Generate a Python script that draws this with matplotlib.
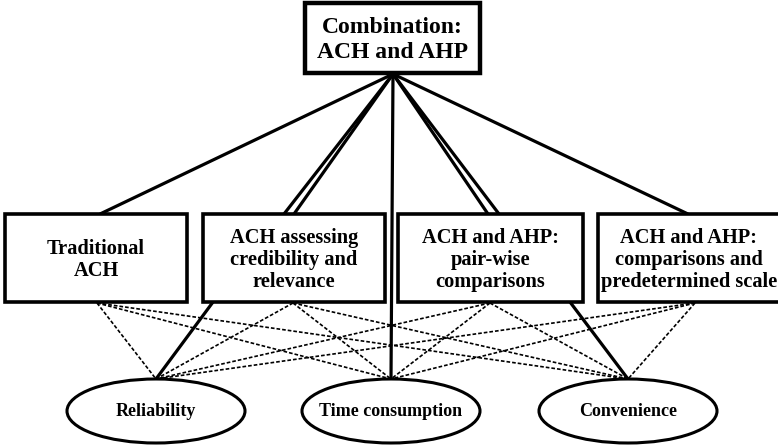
import matplotlib
matplotlib.use("Agg")
import matplotlib.pyplot as plt
from matplotlib.patches import Rectangle, Ellipse

# ---- content ----
top_label = "Combination:\nACH and AHP"
method_labels = ["Traditional\nACH",
                 "ACH assessing\ncredibility and\nrelevance",
                 "ACH and AHP:\npair-wise\ncomparisons",
                 "ACH and AHP:\ncomparisons and\npredetermined scale"]
criteria_labels = ["Reliability", "Time consumption", "Convenience"]

# ---- layout (pixel coordinates, y downward) ----
W, H = 778, 445
top_box = (305, 3, 175, 70)          # x, y, w, h
method_x = [5, 203, 398, 598]
method_w = [182, 182, 185, 182]
method_y, method_h = 214, 88
method_ls = [1.2, 1.12, 1.12, 1.12]
crit_cx = [156, 391, 628]
crit_cy, crit_w, crit_h = 411, 178, 64
apex = (393, 74)
box_top_hits = [[100], [284, 294], [488, 499], [688]]
box_bottom_pts = [97, 293, 490, 695]
solid_bottom = [(213, 0), (570, 2)]   # (x on box bottom, criterion index)

fig = plt.figure(figsize=(W / 100, H / 100), dpi=100)
ax = fig.add_axes([0, 0, 1, 1])
ax.set_xlim(0, W)
ax.set_ylim(H, 0)
ax.axis("off")

font = dict(family=["Liberation Serif", "DejaVu Serif"], weight="bold")

# top box
ax.add_patch(Rectangle(top_box[:2], top_box[2], top_box[3], fill=True, fc="white",
                       ec="black", lw=3.2, zorder=3))
ax.text(top_box[0] + top_box[2] / 2, top_box[1] + top_box[3] / 2 + 2, top_label,
        ha="center", va="center", fontsize=17, linespacing=1.28, zorder=4, **font)

# lines from apex to method boxes
for hits in box_top_hits:
    for hx in hits:
        ax.plot([apex[0], hx], [apex[1], method_y], color="black", lw=2.3,
                solid_capstyle="butt", zorder=1)
# vertical line to time consumption
ax.plot([apex[0], crit_cx[1]], [apex[1], crit_cy - crit_h / 2], color="black", lw=2.3, zorder=1)

# dashed lines between each method and each criterion
for bx in box_bottom_pts:
    for cx in crit_cx:
        ax.plot([bx, cx], [method_y + method_h + 1, crit_cy - crit_h / 2], color="black",
                lw=1.2, ls=(0, (2.2, 1.2)), zorder=1)

# solid box->criterion lines
for bx, ci in solid_bottom:
    ax.plot([bx, crit_cx[ci]], [method_y + method_h, crit_cy - crit_h / 2], color="black",
            lw=2.3, zorder=1)

# method boxes
for x, w, lab, ls in zip(method_x, method_w, method_labels, method_ls):
    ax.add_patch(Rectangle((x, method_y), w, method_h, fc="white", ec="black",
                           lw=2.6, zorder=3))
    ax.text(x + w / 2, method_y + method_h / 2 + 2, lab, ha="center", va="center",
            fontsize=14.7, linespacing=ls, zorder=4, **font)

# criteria ellipses
for cx, lab in zip(crit_cx, criteria_labels):
    ax.add_patch(Ellipse((cx, crit_cy), crit_w, crit_h, fc="white", ec="black",
                         lw=2.2, zorder=3))
    ax.text(cx, crit_cy + 1, lab, ha="center", va="center", fontsize=13,
            zorder=4, **font)

fig.savefig("out.png", dpi=100, facecolor="white")
